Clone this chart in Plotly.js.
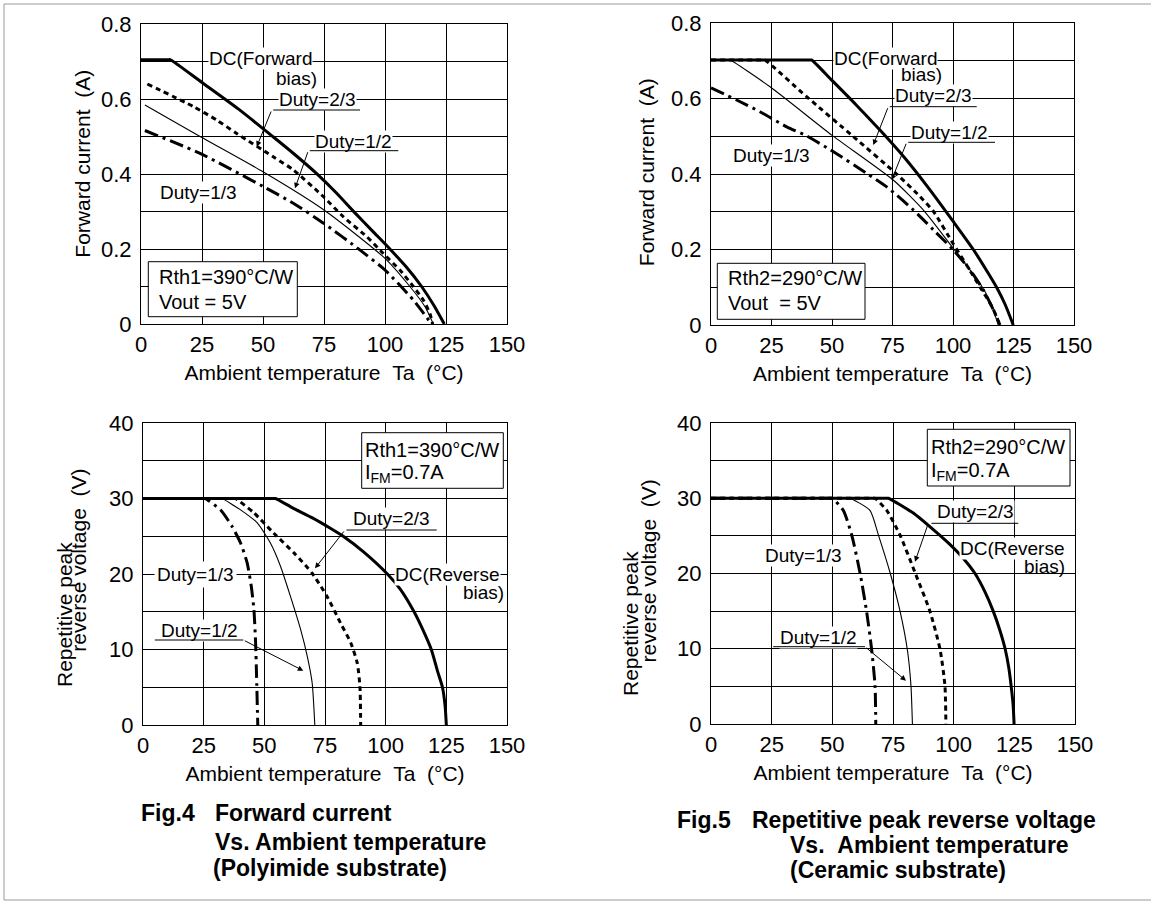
<!DOCTYPE html>
<html>
<head>
<meta charset="utf-8">
<script src="https://cdn.plot.ly/plotly-3.0.1.min.js"></script>
<style>html,body{margin:0;padding:0;background:#fff;}#chart{width:1151px;height:901px;}</style>
</head>
<body>
<div id="chart"></div>
<script>
// ---------- DATA ----------
// Fig.4 top: Forward current vs Ta, Polyimide substrate (Rth1=390°C/W)
const polyFwd_DC_x   = [0, 11.5, 12, 25, 40, 54, 63, 72, 80, 87, 95, 102, 109, 115, 120, 124.3];
const polyFwd_DC_y   = [0.705, 0.705, 0.705, 0.644, 0.573, 0.5, 0.452, 0.401, 0.35, 0.301, 0.247, 0.2, 0.15, 0.1, 0.05, 0];
const polyFwd_D23_x  = [2.6, 21.4, 31, 39.2, 54.2, 62.4, 74.7, 82.9, 92.5, 99.3, 106.1, 111.6, 115.7, 118.4, 119.5];
const polyFwd_D23_y  = [0.64, 0.58, 0.544, 0.508, 0.446, 0.411, 0.34, 0.286, 0.233, 0.188, 0.144, 0.1, 0.064, 0.028, 0];
const polyFwd_D12_x  = [1.6, 24.2, 50, 75, 100, 110.2, 116.4, 119.8];
const polyFwd_D12_y  = [0.584, 0.5, 0.406, 0.304, 0.175, 0.1, 0.046, 0];
const polyFwd_D13_x  = [1.6, 24.2, 50, 62.4, 75, 89.8, 100, 111.6, 119.1];
const polyFwd_D13_y  = [0.516, 0.455, 0.367, 0.322, 0.268, 0.197, 0.144, 0.064, 0];

// Fig.4 bottom: Repetitive peak reverse voltage vs Ta, Polyimide substrate
const polyRev_DC_x   = [0, 54, 54.6, 62, 70, 77, 82.5, 91, 100.7, 106, 111.7, 115.5, 118.8, 121.5, 123.4, 124.5, 125];
const polyRev_DC_y   = [30, 30, 30, 28.7, 27.4, 26.1, 25, 22.9, 20, 18, 15, 12.5, 10, 7, 5, 2.5, 0];
const polyRev_D23_x  = [0, 37.6, 38.1, 45.7, 53.9, 62.2, 69.7, 75.9, 81.4, 85.6, 88.3, 89.4, 89.7];
const polyRev_D23_y  = [30, 30, 30, 28.1, 25.4, 22.8, 20.1, 17, 13.5, 10.9, 8.2, 5.1, 0];
const polyRev_D12_x  = [0, 32.1, 32.6, 40.2, 47, 52.5, 56.7, 60.8, 65, 67.7, 69.7, 70.8];
const polyRev_D12_y  = [30, 30, 30, 28.5, 26.8, 24.1, 21, 17, 12.6, 9.1, 5.6, 0];
const polyRev_D13_x  = [0, 25.2, 25.7, 31.9, 36.7, 40.2, 42.9, 44.6, 45.7, 46.4, 46.8, 47.3];
const polyRev_D13_y  = [30, 30, 30, 28.5, 26.3, 24.1, 21.5, 18.4, 15.3, 10.9, 6.4, 0];

// Fig.5 top: Forward current vs Ta, Ceramic substrate (Rth2=290°C/W)
const ceraFwd_DC_x   = [0, 41.1, 41.6, 50, 60, 70, 80, 90, 100, 108.4, 114, 118, 121.5, 124.9];
const ceraFwd_DC_y   = [0.702, 0.702, 0.702, 0.648, 0.583, 0.515, 0.443, 0.362, 0.275, 0.2, 0.143, 0.1, 0.055, 0];
const ceraFwd_D23_x  = [0, 21.8, 22.3, 39.5, 58.8, 76.7, 86.4, 92, 100, 106, 111.2, 116, 119.4];
const ceraFwd_D23_y  = [0.702, 0.702, 0.702, 0.605, 0.499, 0.4, 0.34, 0.3, 0.216, 0.155, 0.1, 0.05, 0];
const ceraFwd_D12_x  = [0, 7.4, 7.9, 24.4, 49.9, 75.3, 87.7, 100.1, 111.2, 115.5, 118.7];
const ceraFwd_D12_y  = [0.702, 0.702, 0.702, 0.631, 0.503, 0.384, 0.305, 0.203, 0.11, 0.06, 0];
const ceraFwd_D13_x  = [0, 10.6, 20.2, 31.3, 39.5, 50.6, 64.3, 72.6, 83.6, 91.9, 100.1, 107, 112.5, 116.7, 119.4];
const ceraFwd_D13_y  = [0.628, 0.596, 0.565, 0.525, 0.501, 0.459, 0.402, 0.366, 0.305, 0.252, 0.199, 0.146, 0.093, 0.04, 0];

// Fig.5 bottom: Repetitive peak reverse voltage vs Ta, Ceramic substrate
const ceraRev_DC_x   = [0, 72.6, 73.1, 83.5, 91, 98, 104, 108.8, 113, 116.3, 119, 121.2, 122.7, 123.7, 124.5, 124.9];
const ceraRev_DC_y   = [30, 30, 30, 28, 26, 24, 22, 20, 17.5, 15, 12.5, 10, 7.5, 5, 2.5, 0];
const ceraRev_D23_x  = [0, 67.1, 67.6, 72.4, 77.9, 84.1, 90.2, 94.4, 96.4, 96.8];
const ceraRev_D23_y  = [30, 30, 30, 28.4, 25.1, 20.1, 15, 9.9, 5.1, 0];
const ceraRev_D12_x  = [0, 56.8, 57.3, 65.5, 69, 73.8, 77.9, 80.9, 82.4, 83];
const ceraRev_D12_y  = [30, 30, 30, 28.4, 25.1, 20.1, 15, 9.9, 5.1, 0];
const ceraRev_D13_x  = [0, 49.6, 50.1, 54.5, 58, 61.4, 64.1, 66.2, 67.6, 67.9];
const ceraRev_D13_y  = [30, 30, 30, 28.4, 25.1, 20.1, 15, 9.9, 5.1, 0];

const xTickVals = [0, 25, 50, 75, 100, 125, 150];
const xTitle = 'Ambient temperature\u00A0\u00A0Ta\u00A0\u00A0(°C)';

// ---------- STYLES ----------
const W = 1151, H = 901;
const FONT = 'Liberation Sans, Arial, Helvetica, sans-serif';
const INK = '#000';
const px = v => v / W;
const py = v => 1 - v / H;

const styleDC  = {color: '#000', width: 3, dash: 'solid'};
const styleD23 = {color: '#000', width: 3, dash: '5px,4px'};
const styleD12 = {color: '#000', width: 1.1, dash: 'solid'};
const styleD13 = {color: '#000', width: 3, dash: '14px,5px,3px,5px'};

function tr(x, y, style, xa, ya, name) {
  return {x: x, y: y, type: 'scatter', mode: 'lines', name: name,
          line: Object.assign({shape: 'spline', smoothing: 0.6}, style),
          xaxis: xa, yaxis: ya, hoverinfo: 'skip', showlegend: false};
}

const data = [
  tr(polyFwd_DC_x, polyFwd_DC_y, styleDC, 'x', 'y', 'DC'),
  tr(polyFwd_D23_x, polyFwd_D23_y, styleD23, 'x', 'y', 'Duty=2/3'),
  tr(polyFwd_D12_x, polyFwd_D12_y, styleD12, 'x', 'y', 'Duty=1/2'),
  tr(polyFwd_D13_x, polyFwd_D13_y, styleD13, 'x', 'y', 'Duty=1/3'),
  tr(ceraFwd_DC_x, ceraFwd_DC_y, styleDC, 'x2', 'y2', 'DC'),
  tr(ceraFwd_D23_x, ceraFwd_D23_y, styleD23, 'x2', 'y2', 'Duty=2/3'),
  tr(ceraFwd_D12_x, ceraFwd_D12_y, styleD12, 'x2', 'y2', 'Duty=1/2'),
  tr(ceraFwd_D13_x, ceraFwd_D13_y, styleD13, 'x2', 'y2', 'Duty=1/3'),
  tr(polyRev_DC_x, polyRev_DC_y, styleDC, 'x3', 'y3', 'DC'),
  tr(polyRev_D23_x, polyRev_D23_y, styleD23, 'x3', 'y3', 'Duty=2/3'),
  tr(polyRev_D12_x, polyRev_D12_y, styleD12, 'x3', 'y3', 'Duty=1/2'),
  tr(polyRev_D13_x, polyRev_D13_y, styleD13, 'x3', 'y3', 'Duty=1/3'),
  tr(ceraRev_DC_x, ceraRev_DC_y, styleDC, 'x4', 'y4', 'DC'),
  tr(ceraRev_D23_x, ceraRev_D23_y, styleD23, 'x4', 'y4', 'Duty=2/3'),
  tr(ceraRev_D12_x, ceraRev_D12_y, styleD12, 'x4', 'y4', 'Duty=1/2'),
  tr(ceraRev_D13_x, ceraRev_D13_y, styleD13, 'x4', 'y4', 'Duty=1/3')
];

function xAxis(p0, p1, anchor) {
  return {domain: [px(p0), px(p1)], anchor: anchor, range: [0, 150],
          tickvals: xTickVals, showgrid: true, gridcolor: INK, gridwidth: 1,
          showline: true, linecolor: INK, linewidth: 1, mirror: true, zeroline: false,
          ticks: '', ticklabelstandoff: 1,
          tickfont: {family: FONT, size: 22, color: '#000'},
          title: {text: xTitle, font: {family: FONT, size: 21, color: '#000'}, standoff: 8},
          fixedrange: true};
}
function yAxis(p0, p1, anchor, max, dtick, minor) {
  return {domain: [py(p1), py(p0)], anchor: anchor, range: [0, max], dtick: dtick, tick0: 0,
          minor: {dtick: minor, tick0: 0, showgrid: true, gridcolor: INK, gridwidth: 1, ticks: ''},
          showgrid: true, gridcolor: INK, gridwidth: 1,
          showline: true, linecolor: INK, linewidth: 1, mirror: true, zeroline: false,
          ticks: '', ticklabelstandoff: 4,
          tickfont: {family: FONT, size: 22, color: '#000'}, fixedrange: true};
}

const annotations = [];
const shapes = [];
const CLEAR = 'rgba(0,0,0,0)';

function label(text, x, y, opts) {
  annotations.push(Object.assign({xref: 'paper', yref: 'paper', x: px(x), y: py(y), text: text,
    showarrow: false, xanchor: 'center', yanchor: 'middle',
    font: {family: FONT, size: 19, color: '#000'}, bgcolor: '#fff', borderpad: 0}, opts || {}));
}
function boxText(text, x, y) {
  label(text, x, y, {xanchor: 'left', bgcolor: CLEAR, font: {family: FONT, size: 20, color: '#000'}});
}
const leaders = [];
function arrow(tailX, tailY, tipX, tipY) {
  leaders.push({xref: 'paper', yref: 'paper', x: px(tipX), y: py(tipY), ax: tailX - tipX, ay: tailY - tipY,
    text: '', showarrow: true, arrowhead: 2, arrowsize: 1.1, arrowwidth: 1, arrowcolor: '#000',
    standoff: 0, startstandoff: 0});
}
function uline(x0, x1, y) {
  leaders.push({xref: 'paper', yref: 'paper', x: px(x1), y: py(y), ax: x0 - x1, ay: 0,
    text: '', showarrow: true, arrowhead: 0, arrowwidth: 1, arrowcolor: '#000',
    standoff: 0, startstandoff: 0});
}
function box(x0, y0, x1, y1) {
  shapes.push({type: 'rect', xref: 'paper', yref: 'paper', x0: px(x0), x1: px(x1), y0: py(y1), y1: py(y0),
    line: {color: '#000', width: 1}, fillcolor: '#fff', layer: 'above'});
}
function ytitle(text, x, y) {
  annotations.push({xref: 'paper', yref: 'paper', x: px(x), y: py(y), text: text, textangle: -90,
    showarrow: false, xanchor: 'center', yanchor: 'middle', font: {family: FONT, size: 21, color: '#000'}});
}
function caption(text, x, y) {
  annotations.push({xref: 'paper', yref: 'paper', x: px(x), y: py(y), text: '<b>' + text + '</b>',
    showarrow: false, xanchor: 'left', yanchor: 'middle', font: {family: FONT, size: 23, color: '#000'}});
}

// ---- Plot 1 (top-left) ----
label('DC(Forward', 313, 59, {xanchor: 'right'});
label('bias)', 318, 78, {xanchor: 'right', bgcolor: CLEAR});
label('Duty=2/3', 317.5, 99);
uline(271.7, 360, 110); arrow(271.7, 110, 256.7, 146.7);
label('Duty=1/2', 353.3, 141.7);
uline(308.3, 398.3, 150.7); arrow(308.3, 150.7, 295, 188.3);
label('Duty=1/3', 198.3, 192.7);
box(148.3, 261.7, 297.3, 316.7);
boxText('Rth1=390°C/W', 158, 276.7);
boxText('Vout = 5V', 158, 301.7);
ytitle('Forward current\u00A0\u00A0(A)', 81.7, 164);

// ---- Plot 2 (top-right) ----
label('DC(Forward', 938.3, 58.3, {xanchor: 'right'});
label('bias)', 943.3, 75, {xanchor: 'right', bgcolor: CLEAR});
label('Duty=2/3', 933.3, 95);
uline(888.3, 976.7, 106.7); arrow(888.3, 106.7, 873.3, 145);
label('Duty=1/2', 949.3, 132.7);
uline(906.7, 995, 142.3); arrow(906.7, 142.3, 891.7, 180);
label('Duty=1/3', 771, 155);
box(717.3, 263.3, 865, 319.3);
boxText('Rth2=290°C/W', 726.5, 278.3);
boxText('Vout\u00A0\u00A0= 5V', 726.5, 303.3);
ytitle('Forward current\u00A0\u00A0(A)', 646.7, 172.5);

// ---- Plot 3 (bottom-left) ----
box(361.7, 432.7, 503.3, 488.3);
boxText('Rth1=390°C/W', 363.5, 449.5);
boxText('I<sub>FM</sub>=0.7A', 363.5, 473.5);
label('Duty=2/3', 391.7, 518.3);
uline(345, 436.7, 530); arrow(345, 530, 315, 568.3);
label('Duty=1/3', 195.5, 574.3, {borderpad: 2});
label('Duty=1/2', 199.7, 630);
uline(153.3, 243.3, 640); arrow(243.3, 640, 303.3, 670.7);
label('DC(Reverse', 500.7, 574.3, {xanchor: 'right'});
label('bias)', 505, 592.5, {xanchor: 'right', bgcolor: CLEAR});
ytitle('Repetitive peak', 64, 614);
ytitle('reverse voltage\u00A0\u00A0(V)', 79, 560.7);

// ---- Plot 4 (bottom-right) ----
box(927.3, 429.3, 1070, 486);
boxText('Rth2=290°C/W', 930, 446.7);
boxText('I<sub>FM</sub>=0.7A', 930, 471.7);
label('Duty=2/3', 975.8, 511.7);
uline(930, 1018.3, 523.3); arrow(928.3, 523.3, 915, 561.7);
label('DC(Reverse', 1066, 548.3, {xanchor: 'right'});
label('bias)', 1066, 566, {xanchor: 'right', bgcolor: CLEAR});
label('Duty=1/3', 803.3, 555);
label('Duty=1/2', 818.8, 637.7);
uline(771.7, 865, 646.7); arrow(865, 646.7, 906, 680.7);
ytitle('Repetitive peak', 630, 624);
ytitle('reverse voltage\u00A0\u00A0(V)', 648, 571.5);

// ---- Captions ----
caption('Fig.4', 139, 813);
caption('Forward current', 213, 813);
caption('Vs. Ambient temperature', 213, 841.7);
caption('(Polyimide substrate)', 211, 868);
caption('Fig.5', 675, 820);
caption('Repetitive peak reverse voltage', 750, 820);
caption('Vs.\u00A0\u00A0Ambient temperature', 788, 845);
caption('(Ceramic substrate)', 788, 870);

// ---- outer frame ----
shapes.push({type: 'line', xref: 'paper', yref: 'paper', x0: px(4), x1: px(4), y0: py(4), y1: py(900), line: {color: '#999', width: 1}});
shapes.push({type: 'line', xref: 'paper', yref: 'paper', x0: px(4), x1: px(1151), y0: py(4), y1: py(4), line: {color: '#999', width: 1}});
shapes.push({type: 'line', xref: 'paper', yref: 'paper', x0: px(4), x1: px(1151), y0: py(900), y1: py(900), line: {color: '#999', width: 1}});

const layout = {
  width: W, height: H, margin: {l: 0, r: 0, t: 0, b: 0},
  paper_bgcolor: '#fff', plot_bgcolor: '#fff', showlegend: false,
  font: {family: FONT, color: '#000'},
  xaxis:  xAxis(141, 507, 'y'),
  yaxis:  yAxis(24, 324, 'x', 0.8, 0.2, 0.1),
  xaxis2: xAxis(711, 1074, 'y2'),
  yaxis2: yAxis(23, 325, 'x2', 0.8, 0.2, 0.1),
  xaxis3: xAxis(143, 507, 'y3'),
  yaxis3: yAxis(423, 725, 'x3', 40, 10, 5),
  xaxis4: xAxis(711, 1075, 'y4'),
  yaxis4: yAxis(423, 724, 'x4', 40, 10, 5),
  annotations: annotations.concat(leaders),
  shapes: shapes
};

Plotly.newPlot('chart', data, layout, {displayModeBar: false, staticPlot: true});
</script>
</body>
</html>
